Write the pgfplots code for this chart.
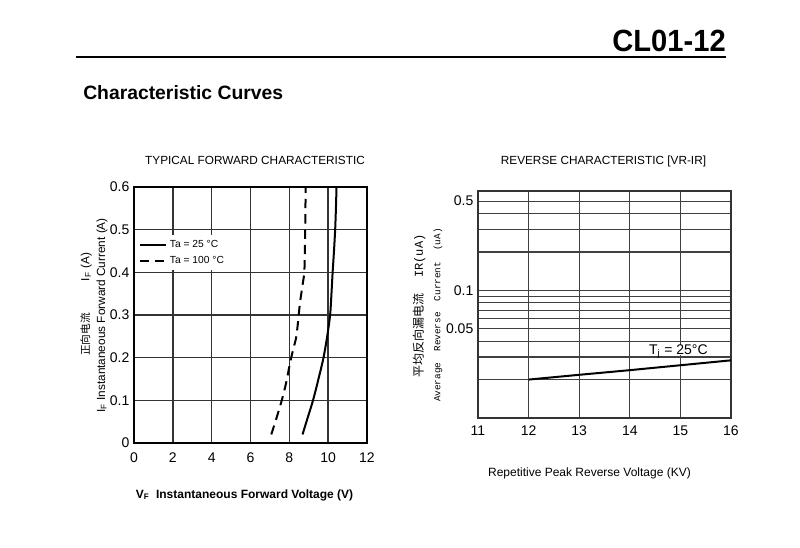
\documentclass[border=0pt]{standalone}
\usepackage{fontspec}
\setmainfont{Liberation Sans}
\newfontfamily\cjk{Noto Sans CJK SC}
\newfontfamily\simmono{Liberation Mono}
\usepackage{pgfplots}
\pgfplotsset{compat=1.18}
\begin{document}
\begin{tikzpicture}
\path[use as bounding box] (0,0) rectangle (600pt,410.25pt);
% header
\node[anchor=base east, inner sep=0pt, font=\fontsize{23}{26}\selectfont\bfseries] at (544.5pt,371.25pt) {\scalebox{0.95}[1]{CL01-12}};
\draw[line width=2.2pt] (57pt,367.5pt) -- (544.5pt,367.5pt);
\node[anchor=base west, inner sep=0pt, font=\fontsize{14.5}{17}\selectfont\bfseries] at (62.25pt,335.25pt) {Characteristic Curves};
% titles
\node[font=\fontsize{8.85}{10}\selectfont] at (191.25pt,290.25pt) {TYPICAL FORWARD CHARACTERISTIC};
\node[font=\fontsize{8.85}{10}\selectfont] at (452.6pt,289.5pt) {REVERSE CHARACTERISTIC [VR-IR]};
% left y labels
\node[rotate=90, anchor=west, inner sep=0pt, font=\fontsize{8.85}{10}\selectfont] at (64.5pt,143.25pt) {{\cjk\fontsize{8}{9}\selectfont 正向电流}\hspace{24pt}I\textsubscript{F} (A)};
\node[rotate=90, inner sep=0pt, font=\fontsize{8.85}{10}\selectfont] at (76.5pt,173.6pt) {I\textsubscript{F} Instantaneous Forward Current (A)};
% left x label
\node[font=\fontsize{9}{11}\selectfont\bfseries] at (183.4pt,39pt) {V\textsubscript{F}\ \ Instantaneous Forward Voltage (V)};
% right y labels
\node[rotate=90, anchor=west, inner sep=0pt] at (314.25pt,126.75pt) {{\cjk\fontsize{9}{10}\selectfont 平均反向漏电流}\hspace{12pt}{\simmono\fontsize{9}{10}\selectfont IR(uA)}};
\node[rotate=90, inner sep=0pt] at (328.5pt,174pt) {\simmono\fontsize{7}{8}\selectfont Average\ \ Reverse\ \ Current\ \ (uA)};
% right x label
\node[font=\fontsize{9}{11}\selectfont] at (442.1pt,55.5pt) {Repetitive Peak Reverse Voltage (KV)};

\begin{axis}[at={(100.5pt,78pt)}, anchor=south west, scale only axis,
  width=174.75pt, height=192pt,
  xmin=0, xmax=12, ymin=0, ymax=0.6,
  xtick={0,2,4,6,8,10,12}, xticklabels={0,2,4,6,8,10,12},
  ytick={0,0.1,0.2,0.3,0.4,0.5,0.6}, yticklabels={0,0.1,0.2,0.3,0.4,0.5,0.6},
  grid=major, major grid style={line width=1.1pt, black!80},
  axis line style={line width=1.4pt}, major tick length=0pt,
  tick label style={font=\fontsize{10.5}{12}\selectfont},
  /pgf/number format/assume math mode=true,
  xticklabel style={yshift=-4pt},
  legend cell align=left,
  legend image code/.code={\draw[#1] (0pt,0pt) -- (20pt,0pt);},
  legend style={at={(0.01,0.812)}, anchor=north west, draw=none, fill=white,
    font=\fontsize{7.7}{9}\selectfont, row sep=1.5pt, inner sep=1.5pt},
]
\addplot[black, line width=1.5pt, smooth] coordinates {
 (8.68,0.02) (8.95,0.06) (9.22,0.1) (9.5,0.15) (9.76,0.2) (9.95,0.25)
 (10.1,0.3) (10.17,0.35) (10.23,0.4) (10.3,0.45) (10.36,0.5) (10.4,0.55) (10.43,0.6)};
\addlegendentry{Ta = 25 °C}
\addplot[black, line width=1.5pt, smooth, dash pattern=on 7pt off 4.5pt] coordinates {
 (7.07,0.02) (7.35,0.06) (7.61,0.1) (7.83,0.14) (8.03,0.186) (8.2,0.22) (8.37,0.2525)
 (8.54,0.325) (8.68,0.37) (8.77,0.4) (8.8,0.45) (8.82,0.5) (8.83,0.55) (8.84,0.6)};
\addlegendentry{Ta = 100 °C}
\end{axis}

\begin{axis}[at={(358.5pt,96.75pt)}, anchor=south west, scale only axis,
  width=189.75pt, height=170.25pt,
  xmin=11, xmax=16, ymode=log, ymin=0.01, ymax=0.6,
  xtick={11,12,13,14,15,16}, xticklabels={11,12,13,14,15,16},
  ytick={0.02,0.03,0.04,0.05,0.06,0.07,0.08,0.09,0.1,0.2,0.3,0.4,0.5},
  yticklabels={,,,0.05,,,,,0.1,,,,0.5},
  grid=major, major grid style={line width=0.9pt, black!75},
  axis line style={line width=1.2pt, black!80}, major tick length=0pt,
  tick label style={font=\fontsize{10.5}{12}\selectfont},
  xticklabel style={yshift=-2pt},
]
\addplot[black, line width=1.5pt] coordinates {
 (12,0.0200) (13,0.0218) (14,0.0237) (15,0.0259) (16,0.0283)};
\node[anchor=base, fill=white, inner xsep=1pt, inner ysep=0pt, text depth=0pt, text height=7.5pt, font=\fontsize{10.5}{12}\selectfont] at (axis cs:14.96,0.0313) {T\textsubscript{j} = 25°C};
\end{axis}
\end{tikzpicture}
\end{document}
